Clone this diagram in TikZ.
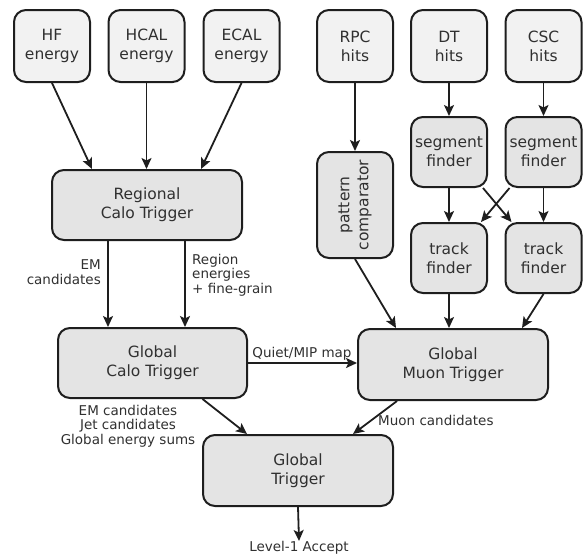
\documentclass[tikz,border=0pt]{standalone}
\usepackage{fontspec}
\setmainfont{DejaVu Sans}
\usetikzlibrary{arrows.meta}
\definecolor{lineC}{HTML}{1E1E1E}
\definecolor{txtC}{HTML}{303030}
\definecolor{fillA}{HTML}{F2F2F2}
\definecolor{fillB}{HTML}{E4E4E4}
\tikzset{
  box/.style={draw=lineC, line width=2pt, rounded corners=12pt, text=txtC, align=center,
     font=\fontsize{15.5}{19}\selectfont, inner sep=0pt},
  srcbox/.style={box, fill=fillA, minimum width=76pt, minimum height=72pt},
  midbox/.style={box, fill=fillB, minimum width=76pt, minimum height=70pt},
  bigbox/.style={box, fill=fillB, minimum width=190pt, minimum height=71pt},
  arr/.style={draw=lineC, line width=1.8pt, -{Stealth[length=11pt,width=10pt,inset=2.5pt]}},
  lbl/.style={text=txtC, font=\fontsize{13.5}{14.5}\selectfont, inner sep=0pt}
}
\begin{document}
\begin{tikzpicture}[x=1pt,y=-1pt]
\useasboundingbox (0,0) rectangle (588,557);
% source boxes
\node[srcbox] (hf) at (52,46) {HF\\energy};
\node[srcbox] (hcal) at (146.5,46) {HCAL\\energy};
\node[srcbox] (ecal) at (241.5,46) {ECAL\\energy};
\node[srcbox] (rpc) at (355,46) {RPC\\hits};
\node[srcbox] (dt) at (449,46) {DT\\hits};
\node[srcbox] (csc) at (543.5,46) {CSC\\hits};
% muon intermediate
\node[midbox] (segdt) at (449,152) {segment\\finder};
\node[midbox] (segcsc) at (543.5,152) {segment\\finder};
\node[midbox, minimum height=106pt] (pat) at (355,205) {};
\node[text=txtC, align=center, font=\fontsize{15.5}{19}\selectfont, rotate=90] (pattxt) at (pat.center) {pattern\\comparator};
\node[midbox] (trkdt) at (449,258) {track\\finder};
\node[midbox] (trkcsc) at (543.5,258) {track\\finder};
% calo
\node[bigbox, minimum height=70pt] (rct) at (147,205) {Regional\\Calo Trigger};
\node[bigbox, minimum height=70pt, minimum width=189pt] (gct) at (152.5,363) {Global\\Calo Trigger};
\node[bigbox] (gmt) at (453,364.5) {Global\\Muon Trigger};
\node[bigbox] (gt) at (298,470.5) {Global\\Trigger};
\node[lbl, anchor=north] (l1) at (299,541) {Level-1 Accept};
% arrows calo
\draw[arr] (hf.south) -- ([xshift=-55pt]rct.north);
\draw[arr] (hcal.south) -- (hcal.south |- rct.north);
\draw[arr] (ecal.south) -- ([xshift=54pt]rct.north);
\draw[arr] ([xshift=-39pt]rct.south) -- ([xshift=-39pt]rct.south |- gct.north);
\draw[arr] ([xshift=38pt]rct.south) -- ([xshift=38pt]rct.south |- gct.north);
% arrows muon
\draw[arr] (rpc.south) -- (pat.north);
\draw[arr] (dt.south) -- (segdt.north);
\draw[arr] (csc.south) -- (segcsc.north);
\draw[arr] (segdt.south) -- (trkdt.north);
\draw[arr] (segcsc.south) -- (trkcsc.north);
\draw[arr] ([xshift=34pt]segdt.south) -- ([xshift=-32pt]trkcsc.north);
\draw[arr] ([xshift=-34pt]segcsc.south) -- ([xshift=32pt]trkdt.north);
\draw[arr] (pat.south) -- ([xshift=-57pt]gmt.north);
\draw[arr] (trkdt.south) -- (trkdt.south |- gmt.north);
\draw[arr] (trkcsc.south) -- ([xshift=69pt]gmt.north);
% global
\draw[arr] (gct.east) -- (gct.east -| gmt.west);
\draw[arr] ([xshift=50pt]gct.south) -- ([xshift=-51pt]gt.north);
\draw[arr] ([xshift=-56pt]gmt.south) -- ([xshift=55pt]gt.north);
\draw[arr] (gt.south) -- (l1.north);
% labels
\node[lbl, align=right, anchor=east] (lem) at (101,272) {EM\\candidates};
\node[lbl, align=left, anchor=west] (lreg) at (192,275) {Region\\energies\\+ fine-grain};
\node[lbl, anchor=base] (lqm) at (302,357) {Quiet/MIP map};
\node[lbl, align=center] (lgc) at (128,426) {EM candidates\\Jet candidates\\Global energy sums};
\node[lbl, anchor=west] (lmu) at (378,420) {Muon candidates};
\end{tikzpicture}
\end{document}
